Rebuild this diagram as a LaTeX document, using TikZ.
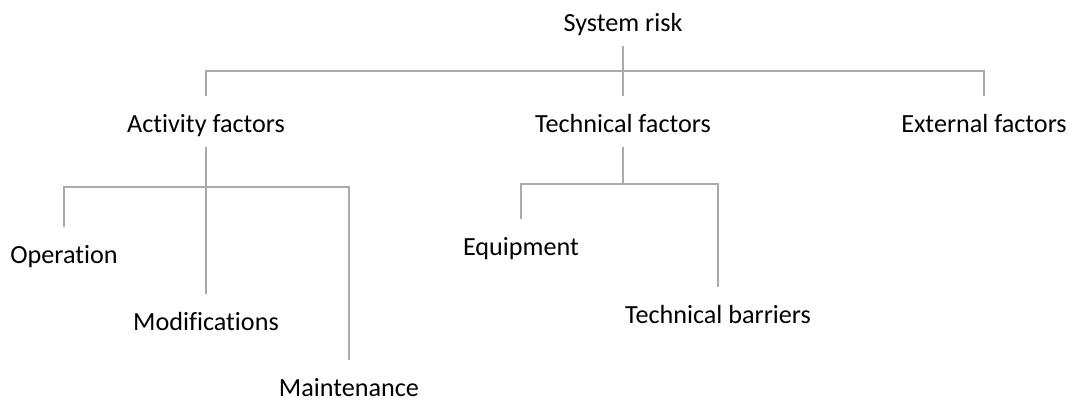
\documentclass[tikz,border=0pt]{standalone}
\usepackage{fontspec}
\setmainfont{Carlito}[Ligatures={NoCommon,NoContextual}]
\usepackage{tikz}
\definecolor{branchgray}{RGB}{170,170,170}
\tikzstyle{factor}=[anchor=base,inner sep=0pt,text height=20.4pt,text depth=8.5pt,font=\fontsize{14.9}{18}\selectfont]
\tikzstyle{branch}=[branchgray,line width=0.6pt]

\begin{document}
\begin{tikzpicture}[x=0.02cm,y=-0.02cm]
\useasboundingbox (0,0) rectangle (1073,400);
\node[factor] (sysrisk) at (623,31) {System risk};
\node[factor] (activity) at (206,132) {Activity factors};
\node[factor] (technical) at (623,132) {Technical factors};
\node[factor] (external) at (984,132) {External factors};
\node[factor] (operation) at (64,263) {Operation};
\node[factor] (modif) at (206,330) {Modifications};
\node[factor] (maint) at (349,396) {Maintenance};
\node[factor] (equip) at (521,255) {Equipment};
\node[factor] (barriers) at (718,323) {Technical barriers};
\coordinate (topbar) at (623,71);
\coordinate (actbar) at (206,187);
\coordinate (techbar) at (623,184);
\draw[branch]
  (sysrisk.south)
   -- (technical.north);
\draw[branch]
  (activity.north)
   |- (topbar)
   -| (external.north);
\draw[branch]
  (activity.south)
   -- (modif.north);
\draw[branch]
  (operation.north)
   |- (actbar)
   -| (maint.north);
\draw[branch]
  (technical.south)
   -- (techbar);
\draw[branch]
  (equip.north)
   |- (techbar)
   -| (barriers.north);
\end{tikzpicture}
\end{document}
